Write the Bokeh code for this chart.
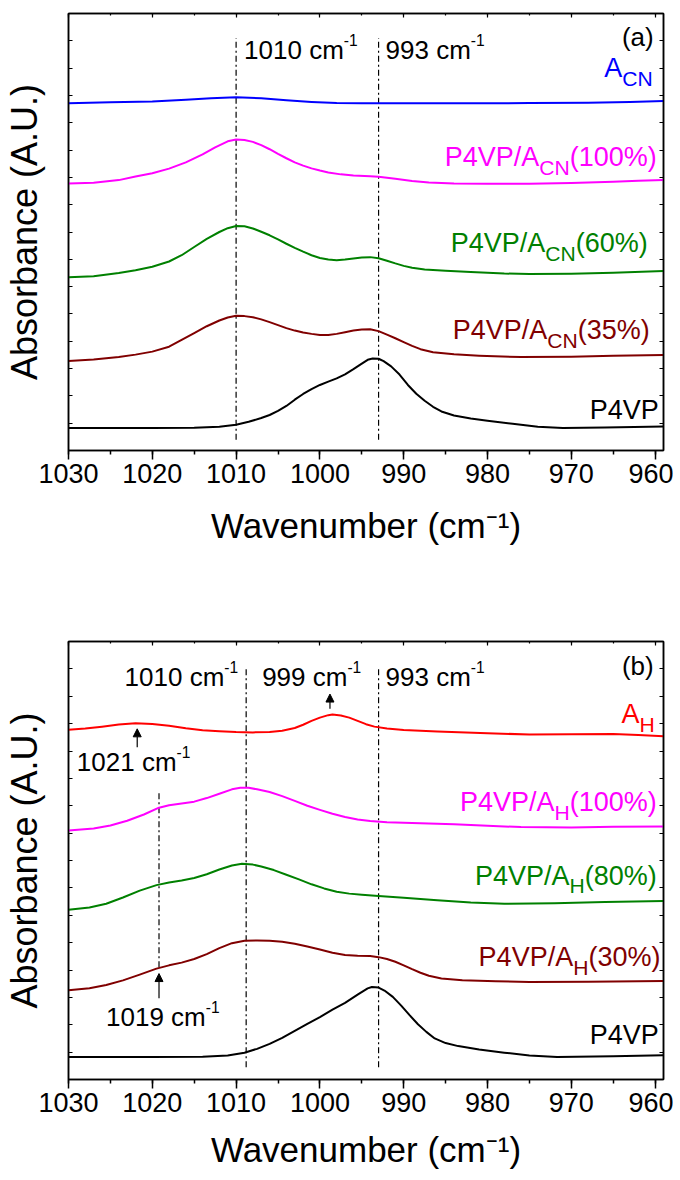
from bokeh.plotting import figure
from bokeh.layouts import column
from bokeh.models import (Range1d, LinearAxis, SingleIntervalTicker,
                          CustomJSTickFormatter, Arrow, NormalHead, ColumnDataSource)
from bokeh.core.properties import value
from bokeh.embed import file_html
from bokeh.resources import INLINE

FONT = "Liberation Sans"

# ---------------- data: panel (a) ----------------
a_wn_acn = [1030, 1025, 1020, 1016, 1013, 1010, 1007, 1004, 1001, 998, 995, 985, 975, 968, 963, 959]
a_y_acn = [12.71, 12.75, 12.78, 12.84, 12.90, 12.93, 12.90, 12.82, 12.76, 12.72, 12.71, 12.71, 12.72, 12.73, 12.76, 12.80]

a_wn_p100 = [1030, 1027, 1024, 1022, 1020, 1018, 1016, 1014, 1012.5, 1011, 1010, 1009, 1008, 1007, 1006, 1005, 1004, 1003, 1002, 1001, 1000, 999, 997.5, 996, 994, 993, 991, 989, 987, 984, 980, 975, 970, 965, 962, 959]
a_y_p100 = [9.78, 9.80, 9.90, 10.03, 10.15, 10.32, 10.55, 10.84, 11.10, 11.32, 11.39, 11.37, 11.30, 11.18, 11.03, 10.86, 10.70, 10.55, 10.43, 10.33, 10.25, 10.18, 10.11, 10.07, 10.04, 10.02, 9.95, 9.87, 9.81, 9.78, 9.77, 9.77, 9.79, 9.84, 9.88, 9.90]

a_wn_p60 = [1030, 1027, 1024, 1022, 1020, 1018, 1016.5, 1015, 1013.5, 1012, 1011, 1010, 1009, 1008, 1007, 1006, 1005, 1004, 1003, 1002, 1001, 1000, 999, 998, 997, 996, 995, 994, 993, 992, 991, 990, 989, 987.5, 985, 982, 978, 975, 970, 965, 959]
a_y_p60 = [6.34, 6.38, 6.50, 6.60, 6.73, 6.92, 7.15, 7.45, 7.75, 8.00, 8.14, 8.22, 8.21, 8.13, 8.01, 7.88, 7.73, 7.57, 7.42, 7.28, 7.15, 7.05, 6.99, 6.97, 6.99, 7.03, 7.07, 7.08, 7.04, 6.95, 6.85, 6.76, 6.69, 6.63, 6.58, 6.54, 6.48, 6.46, 6.47, 6.51, 6.57]

a_wn_p35 = [1030, 1027, 1024, 1022, 1020, 1018, 1016.5, 1015, 1013.5, 1012, 1011, 1010, 1009, 1008, 1007, 1006, 1005, 1004, 1003, 1002, 1001, 1000, 999, 998, 997, 996, 995, 994, 993, 992, 991, 990, 989, 988, 986.5, 984, 981, 976, 970, 965, 959]
a_y_p35 = [3.28, 3.33, 3.42, 3.51, 3.62, 3.80, 4.05, 4.30, 4.55, 4.76, 4.87, 4.93, 4.92, 4.88, 4.80, 4.70, 4.59, 4.48, 4.39, 4.32, 4.27, 4.23, 4.23, 4.27, 4.33, 4.39, 4.43, 4.44, 4.37, 4.24, 4.11, 3.97, 3.83, 3.71, 3.60, 3.52, 3.47, 3.42, 3.43, 3.47, 3.50]

a_wn_p4vp = [1030, 1020, 1015, 1012, 1010, 1008.5, 1007, 1006, 1005, 1004, 1003, 1002, 1001, 1000, 999, 998, 997, 996, 995, 994.3, 993.7, 993, 992.4, 991.5, 990.5, 989.5, 988.5, 987.5, 986.5, 985.5, 984, 982, 980, 977, 974, 971, 966, 959]
a_y_p4vp = [0.82, 0.82, 0.83, 0.87, 0.94, 1.05, 1.19, 1.30, 1.45, 1.63, 1.86, 2.07, 2.25, 2.40, 2.52, 2.64, 2.79, 2.98, 3.18, 3.32, 3.37, 3.36, 3.27, 3.08, 2.78, 2.40, 2.08, 1.82, 1.60, 1.43, 1.28, 1.17, 1.09, 0.98, 0.87, 0.82, 0.84, 0.88]

# ---------------- data: panel (b) ----------------
b_wn_ah = [1030, 1028, 1026, 1024, 1022, 1020, 1018, 1016, 1014, 1012, 1010, 1008, 1006, 1004.5, 1003, 1002, 1001, 1000, 999, 998.5, 997.5, 996.5, 995.5, 994.5, 993.5, 992, 990, 986, 980, 975, 970, 965, 962, 959]
b_y_ah = [12.78, 12.82, 12.89, 12.97, 13.01, 12.99, 12.92, 12.83, 12.76, 12.72, 12.69, 12.68, 12.69, 12.74, 12.84, 12.96, 13.10, 13.22, 13.31, 13.33, 13.30, 13.22, 13.10, 12.98, 12.89, 12.82, 12.77, 12.71, 12.65, 12.60, 12.61, 12.62, 12.58, 12.54]

b_wn_p100 = [1030, 1027, 1025, 1023, 1021, 1019.2, 1018, 1016.5, 1015, 1013.5, 1012, 1010.5, 1009.5, 1008.5, 1007.5, 1006, 1004.5, 1003, 1001.5, 1000, 998.5, 997, 995.5, 994, 992, 988, 984, 980, 976, 970, 965, 959]
b_y_p100 = [9.10, 9.17, 9.28, 9.45, 9.68, 9.93, 10.02, 10.08, 10.15, 10.28, 10.44, 10.60, 10.66, 10.66, 10.60, 10.50, 10.35, 10.18, 10.00, 9.85, 9.71, 9.59, 9.50, 9.44, 9.40, 9.36, 9.32, 9.27, 9.22, 9.21, 9.23, 9.24]

b_wn_p80 = [1030, 1027.5, 1025.5, 1023.5, 1021.5, 1019.5, 1018, 1016.5, 1015, 1013.5, 1012, 1010.5, 1009.3, 1008, 1007, 1005.5, 1004, 1002.5, 1001, 999.5, 998, 996.5, 995, 993, 990, 986, 982, 978, 972, 966, 959]
b_y_p80 = [6.20, 6.28, 6.42, 6.65, 6.90, 7.10, 7.20, 7.27, 7.36, 7.50, 7.67, 7.82, 7.88, 7.85, 7.78, 7.65, 7.48, 7.31, 7.13, 6.98, 6.86, 6.79, 6.75, 6.70, 6.64, 6.55, 6.47, 6.42, 6.44, 6.48, 6.52]

b_wn_p30 = [1030, 1027.5, 1025.5, 1023.5, 1021.5, 1019.5, 1018, 1016.5, 1015, 1013.5, 1012, 1010.5, 1009, 1007.5, 1006, 1004.5, 1003, 1001.5, 1000, 998.5, 997, 995.5, 994, 993, 992, 991, 990, 989, 988, 987, 985.5, 983, 979, 975, 968, 959]
b_y_p30 = [3.26, 3.33, 3.45, 3.62, 3.83, 4.05, 4.17, 4.27, 4.40, 4.58, 4.80, 4.98, 5.07, 5.08, 5.07, 5.03, 4.96, 4.86, 4.75, 4.63, 4.55, 4.52, 4.51, 4.47, 4.40, 4.30, 4.17, 4.03, 3.90, 3.79, 3.69, 3.63, 3.59, 3.56, 3.57, 3.60]

b_wn_p4vp = [1030, 1020, 1014, 1011, 1009, 1007.5, 1006, 1004.5, 1003, 1001.5, 1000, 998.5, 997, 995.5, 994.3, 993.8, 993, 992.3, 991.3, 990.3, 989.3, 988.3, 987.3, 986.3, 985, 983.5, 981, 978, 975, 971.7, 965, 959]
b_y_p4vp = [0.82, 0.82, 0.83, 0.88, 0.98, 1.12, 1.30, 1.52, 1.78, 2.03, 2.28, 2.55, 2.80, 3.10, 3.33, 3.38, 3.36, 3.25, 3.02, 2.70, 2.35, 2.02, 1.74, 1.50, 1.33, 1.22, 1.10, 0.98, 0.88, 0.82, 0.85, 0.89]

# marker lines (wavenumbers) and arrows
a_mark_wn = [1010, 993]
b_mark_wn = [1008.8, 993]
b_short_mark_wn = [1019.2]
b_arrow_wn = [1021.8, 998.8, 1019.2]
b_arrow_from = [12.14, 13.54, 2.97]
b_arrow_to = [12.81, 14.08, 3.87]

BLUE, MAG, GREEN, DRED, BLACK, RED = "#0000FF", "#FF00FF", "#008000", "#800000", "#000000", "#FF0000"

# Arial / Liberation Sans advance widths (per 1000 em)
W = {' ': 278, '%': 889, '(': 333, ')': 333, '-': 333, '.': 278, '/': 278, 'A': 667, 'C': 722,
     'H': 722, 'N': 722, 'P': 667, 'V': 667, 'U': 722, 'a': 556, 'b': 556, 'c': 500, 'm': 833}
for d in "0123456789":
    W[d] = 556


def tw(s, size):
    return sum(W.get(c, 556) for c in s) * size / 1000.0


def rich(p, x, y, parts, color, size, align="left", xoff=0.0, yoff=0.0):
    fs = {"n": size, "sub": round(size * 0.78, 1), "sup": round(size * 0.6, 1)}
    dy = {"n": 0.0, "sub": size * 0.38, "sup": -size * 0.40}
    widths = [tw(t, fs[k]) for t, k in parts]
    total = sum(widths)
    if align == "right":
        cur = xoff - total
    elif align == "center":
        cur = xoff - total / 2
    else:
        cur = xoff
    for (t, k), w in zip(parts, widths):
        p.text(x=[x], y=[y], text=[t], x_offset=cur, y_offset=yoff + dy[k],
               text_font=value(FONT), text_font_size=f"{fs[k]}px", text_color=color,
               text_align="left", text_baseline="middle")
        cur += w


def blank():
    return CustomJSTickFormatter(code="return ''")


def make_fig(frame_h, top_b, bottom_b, xlabel_standoff):
    p = figure(frame_width=595, frame_height=frame_h,
               x_range=Range1d(1030, 959), y_range=Range1d(0, 16),
               output_backend="svg", toolbar_location=None,
               min_border_left=67, min_border_right=10,
               min_border_top=top_b, min_border_bottom=bottom_b,
               background_fill_color="white", border_fill_color="white",
               outline_line_color="black", outline_line_width=1.5)
    p.grid.visible = False
    xa = p.xaxis[0]
    xa.ticker = SingleIntervalTicker(interval=10, num_minor_ticks=2)
    xa.major_label_text_font = FONT
    xa.major_label_text_font_size = "27px"
    xa.major_label_text_color = "black"
    xa.major_label_standoff = 4
    xa.major_tick_out = 9
    xa.major_tick_in = 0
    xa.minor_tick_out = 4
    xa.minor_tick_in = 0
    xa.axis_line_width = 1.5
    xa.major_tick_line_width = 1.5
    xa.minor_tick_line_width = 1.5
    xa.axis_label = "Wavenumber (cm\u207b\u00b9)"
    xa.axis_label_text_font = FONT
    xa.axis_label_text_font_size = "35px"
    xa.axis_label_text_font_style = "normal"
    xa.axis_label_text_color = "black"
    xa.axis_label_standoff = xlabel_standoff

    ya = p.yaxis[0]
    ya.ticker = SingleIntervalTicker(interval=1, num_minor_ticks=0)
    ya.formatter = blank()
    ya.major_label_text_font_size = "0px"
    ya.major_label_standoff = 0
    ya.major_tick_in = 4
    ya.major_tick_out = 0
    ya.minor_tick_line_color = None
    ya.axis_line_width = 1.5
    ya.major_tick_line_width = 1.2
    ya.axis_label = "Absorbance (A.U.)"
    ya.axis_label_text_font = FONT
    ya.axis_label_text_font_size = "36px"
    ya.axis_label_text_font_style = "normal"
    ya.axis_label_text_color = "black"
    ya.axis_label_standoff = 24

    ra = LinearAxis(ticker=SingleIntervalTicker(interval=1, num_minor_ticks=0), formatter=blank(),
                    major_label_text_font_size="0px", major_label_standoff=0,
                    major_tick_in=4, major_tick_out=0, minor_tick_line_color=None,
                    axis_line_width=1.5, major_tick_line_width=1.2)
    p.add_layout(ra, "right")
    ta = LinearAxis(ticker=SingleIntervalTicker(interval=10, num_minor_ticks=2), formatter=blank(),
                    major_label_text_font_size="0px", major_label_standoff=0,
                    major_tick_in=4, major_tick_out=0, minor_tick_in=2, minor_tick_out=0,
                    axis_line_width=1.5, major_tick_line_width=1.2, minor_tick_line_width=1.2)
    p.add_layout(ta, "above")
    return p


DASH = "6 3 2 3"
LW = 2

# ---------------- panel (a) ----------------
pa = make_fig(437, 13, 150, 20)
pa.segment(x0=a_mark_wn, x1=a_mark_wn, y0=[0.39] * len(a_mark_wn), y1=[15.09] * len(a_mark_wn),
           line_color="black", line_width=1.2, line_dash=value(DASH))
for wn, y, c in [(a_wn_acn, a_y_acn, BLUE), (a_wn_p100, a_y_p100, MAG), (a_wn_p60, a_y_p60, GREEN),
                 (a_wn_p35, a_y_p35, DRED), (a_wn_p4vp, a_y_p4vp, BLACK)]:
    pa.line(wn, y, line_color=c, line_width=LW, line_join="round")

rich(pa, 959, 13.99, [("A", "n"), ("CN", "sub")], BLUE, 27, "right", -10.7)
rich(pa, 959, 10.75, [("P4VP/A", "n"), ("CN", "sub"), ("(100%)", "n")], MAG, 27, "right", -6.7)
rich(pa, 959, 7.59, [("P4VP/A", "n"), ("CN", "sub"), ("(60%)", "n")], GREEN, 27, "right", -15.7)
rich(pa, 959, 4.41, [("P4VP/A", "n"), ("CN", "sub"), ("(35%)", "n")], DRED, 27, "right", -13.7)
rich(pa, 959, 1.49, [("P4VP", "n")], BLACK, 27, "right", -4.7)
rich(pa, a_mark_wn[0], 14.66, [("1010 cm", "n"), ("-1", "sup")], BLACK, 26, "left", 8)
rich(pa, a_mark_wn[1], 14.66, [("993 cm", "n"), ("-1", "sup")], BLACK, 26, "left", 7)
rich(pa, 959, 15.15, [("(a)", "n")], BLACK, 26, "center", -25.7)

# ---------------- panel (b) ----------------
pb = make_fig(438, 41, 100, 15)
pb.segment(x0=b_mark_wn, x1=b_mark_wn, y0=[0.45] * len(b_mark_wn), y1=[15.08] * len(b_mark_wn),
           line_color="black", line_width=1.2, line_dash=value(DASH))
pb.segment(x0=b_short_mark_wn, x1=b_short_mark_wn, y0=[4.10], y1=[10.55],
           line_color="black", line_width=1.2, line_dash=value(DASH))
for wn, y, c in [(b_wn_ah, b_y_ah, RED), (b_wn_p100, b_y_p100, MAG), (b_wn_p80, b_y_p80, GREEN),
                 (b_wn_p30, b_y_p30, DRED), (b_wn_p4vp, b_y_p4vp, BLACK)]:
    pb.line(wn, y, line_color=c, line_width=LW, line_join="round")

arrow_src = ColumnDataSource(dict(x0=b_arrow_wn, y0=b_arrow_from, x1=b_arrow_wn, y1=b_arrow_to))
pb.add_layout(Arrow(end=NormalHead(size=8, fill_color="black", line_color="black", line_width=1),
                    source=arrow_src, x_start="x0", y_start="y0", x_end="x1", y_end="y1",
                    line_color="black", line_width=1.2))

rich(pb, 959, 13.36, [("A", "n"), ("H", "sub")], RED, 27, "right", -8.7)
rich(pb, 959, 10.13, [("P4VP/A", "n"), ("H", "sub"), ("(100%)", "n")], MAG, 27, "right", -6.7)
rich(pb, 959, 7.45, [("P4VP/A", "n"), ("H", "sub"), ("(80%)", "n")], GREEN, 27, "right", -6.7)
rich(pb, 959, 4.47, [("P4VP/A", "n"), ("H", "sub"), ("(30%)", "n")], DRED, 27, "right", -3.1)
rich(pb, 959, 1.62, [("P4VP", "n")], BLACK, 27, "right", -4.7)
rich(pb, b_mark_wn[0], 14.69, [("1010 cm", "n"), ("-1", "sup")], BLACK, 26, "right", -8)
rich(pb, b_mark_wn[0], 14.69, [("999 cm", "n"), ("-1", "sup")], BLACK, 26, "left", 16)
rich(pb, b_mark_wn[1], 14.69, [("993 cm", "n"), ("-1", "sup")], BLACK, 26, "left", 7)
rich(pb, 959, 15.11, [("(b)", "n")], BLACK, 26, "center", -25.7)
rich(pb, b_arrow_wn[0], 11.59, [("1021 cm", "n"), ("-1", "sup")], BLACK, 26, "left", -60.4)
rich(pb, b_arrow_wn[2], 2.28, [("1019 cm", "n"), ("-1", "sup")], BLACK, 26, "left", -53)

layout = column(pa, pb, spacing=0)
open("out.html", "w").write(file_html(layout, INLINE))
